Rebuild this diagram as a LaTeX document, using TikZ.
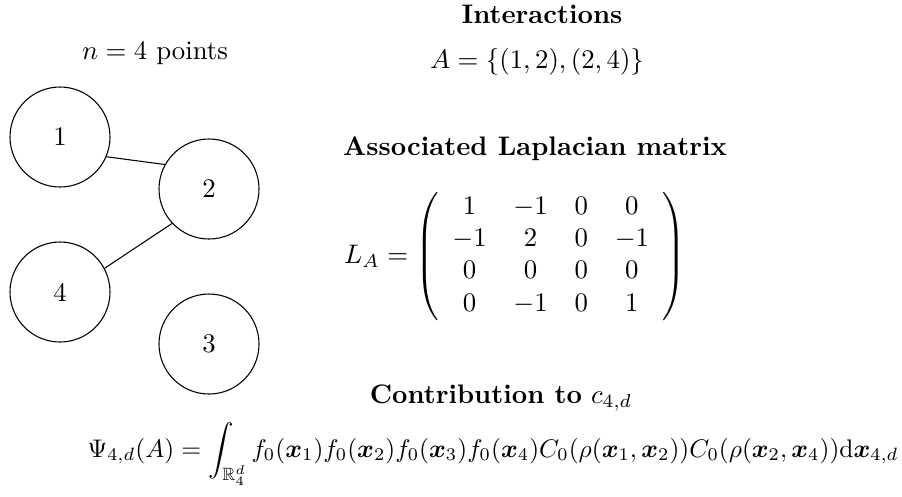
\documentclass[tikz,border=0pt]{standalone}
\usepackage{amsmath,amssymb,bm}
\begin{document}
\begin{tikzpicture}[x=0.373pt,y=-0.373pt,
  pt/.style={circle,draw,minimum size=37.3pt,inner sep=0pt},
  lbl/.style={anchor=base,inner sep=0pt}]
\useasboundingbox (0,0) rectangle (902,496);
\node[lbl] (title) at (155,59) {$n=4$ points};
\node[pt] (p1) at (60,137) {1};
\node[pt] (p2) at (209,189) {2};
\node[pt] (p4) at (60,292) {4};
\node[pt] (p3) at (209,344) {3};
\draw (p1.-23.5) -- (p2.151.4);
\draw (p2.-137.4) -- (p4.28);
\node[lbl] (inter) at (542,23) {\textbf{Interactions}};
\node[lbl] (aset) at (537,68) {$A=\{(1,2),(2,4)\}$};
\node[lbl] (assoc) at (535,155) {\textbf{Associated Laplacian matrix}};
\node[lbl] (mat) at (515,263) {$L_A=\left(\begin{array}{cccc}
1 & -1 & 0 & 0\\
-1 & 2 & 0 & -1\\
0 & 0 & 0 & 0\\
0 & -1 & 0 & 1
\end{array}\right)$};
\node[lbl] (contrib) at (501,403) {\textbf{Contribution to} $c_{4,d}$};
\node[lbl] (psi) at (493,457) {\scalebox{0.95}{$\displaystyle \Psi_{4,d}(A)=\int_{\mathbb{R}^d_4} f_0(\bm{x}_1)f_0(\bm{x}_2)f_0(\bm{x}_3)f_0(\bm{x}_4)C_0(\rho(\bm{x}_1,\bm{x}_2))C_0(\rho(\bm{x}_2,\bm{x}_4))\mathrm{d}\bm{x}_{4,d}$}};
\end{tikzpicture}
\end{document}
